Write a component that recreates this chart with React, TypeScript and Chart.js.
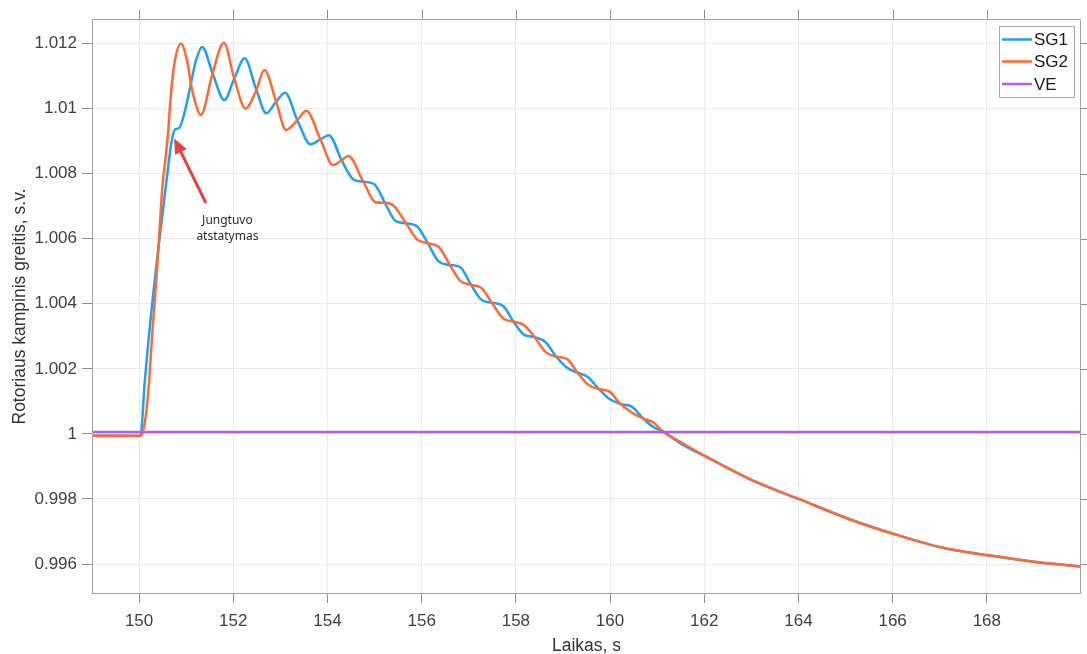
import React, { useEffect, useRef } from "react";
import { Chart, registerables } from "chart.js";

Chart.register(...registerables);

// ---------- data ----------
const SERIES_NAMES = ["SG1", "SG2", "VE"];
const X_TICKS = [150, 152, 154, 156, 158, 160, 162, 164, 166, 168];
const Y_TICKS = [0.996, 0.998, 1.0, 1.002, 1.004, 1.006, 1.008, 1.01, 1.012];
const Y_TICK_LABELS = ["0.996", "0.998", "1", "1.002", "1.004", "1.006", "1.008", "1.01", "1.012"];
const X_TITLE = "Laikas, s";
const Y_TITLE = "Rotoriaus kampinis greitis, s.v.";
const ANNOTATION_LINES = ["Jungtuvo", "atstatymas"];
const ARROW_TIP = [150.746, 1.00908];
const ARROW_TAIL = [151.406, 1.00713];
const ANNOTATION_AT = [151.875, 1.00657];

const SG1_T = [149, 150.0, 150.03, 150.12, 150.2, 150.3, 150.4, 150.5, 150.6, 150.68, 150.76, 150.85, 150.96, 151.1, 151.21, 151.34,
  151.56, 151.81, 152.02, 152.24, 152.49, 152.7, 152.91, 153.1, 153.36, 153.64, 153.85, 154.03, 154.3, 154.55, 154.76, 154.99,
  155.22, 155.44, 155.67, 155.9, 156.13, 156.36, 156.6, 156.82, 157.05, 157.27, 157.49, 157.73, 157.95, 158.17, 158.4, 158.63,
  158.86, 159.09, 159.31, 159.53, 159.76, 159.99, 160.22, 160.47, 160.7, 160.92, 161.13, 161.5, 162.04, 163.0, 164.06, 165.1,
  166.08, 167.04, 168.07, 169.0, 170.0];
const SG1_V = [0.99994, 0.99994, 0.99995, 1.0016, 1.0029, 1.0043, 1.0056, 1.0068, 1.008, 1.0089, 1.00935, 1.0094, 1.00985, 1.01077, 1.01149, 1.01189,
  1.01108, 1.01026, 1.01092, 1.01154, 1.01057, 1.00985, 1.01021, 1.01048, 1.00964, 1.0089, 1.00905, 1.00918, 1.00841, 1.00782, 1.00775, 1.00768,
  1.0071, 1.00655, 1.00647, 1.00638, 1.00586, 1.0053, 1.00519, 1.00512, 1.00458, 1.00412, 1.00403, 1.00393, 1.00345, 1.00305, 1.00297, 1.00282,
  1.00237, 1.00203, 1.00188, 1.00175, 1.00138, 1.00107, 1.00092, 1.00083, 1.00048, 1.00021, 1.00007, 0.9997, 0.9993, 0.99859, 0.99797, 0.99737,
  0.9969, 0.99651, 0.99626, 0.99607, 0.99592];

const SG2_T = [149, 150.0, 150.07, 150.14, 150.21, 150.28, 150.36, 150.43, 150.5, 150.56, 150.62, 150.67, 150.75, 150.89, 151.03, 151.1, 151.16, 151.31,
  151.56, 151.8, 152.02, 152.26, 152.49, 152.66, 152.91, 153.12, 153.36, 153.55, 153.85, 154.12, 154.3, 154.44, 154.76, 155.02,
  155.22, 155.4, 155.67, 155.9, 156.13, 156.36, 156.6, 156.82, 157.05, 157.27, 157.49, 157.73, 157.95, 158.17, 158.4, 158.63,
  158.86, 159.09, 159.31, 159.53, 159.76, 159.99, 160.22, 160.47, 160.7, 160.92, 161.13, 161.5, 162.04, 163.0, 164.06, 165.1,
  166.08, 167.04, 168.07, 169.0, 170.0];
const SG2_V = [0.99994, 0.99994, 1.00002, 1.00053, 1.00156, 1.00309, 1.00463, 1.00616, 1.0077, 1.00845, 1.00934, 1.01036, 1.01138, 1.012, 1.01138, 1.01077, 1.01036, 1.0098,
  1.01108, 1.01202, 1.01092, 1.01, 1.01057, 1.01118, 1.01021, 1.00934, 1.00964, 1.00993, 1.00905, 1.00826, 1.00841, 1.00854, 1.00775, 1.00712,
  1.0071, 1.00702, 1.00647, 1.00598, 1.00586, 1.00575, 1.00519, 1.0047, 1.00458, 1.00448, 1.00403, 1.00355, 1.00345, 1.00335, 1.00297, 1.00252,
  1.00237, 1.0023, 1.00188, 1.00152, 1.00138, 1.0013, 1.00092, 1.00065, 1.00048, 1.00035, 1.00007, 0.99975, 0.9993, 0.99859, 0.99797, 0.99737,
  0.9969, 0.99651, 0.99626, 0.99607, 0.99592];

const VE_T = [149, 170];
const VE_V = [1.00006, 1.00006];

const COLORS = ["#1f9ff5", "#ff6a33", "#b35cf5"];

const FONT = "'Liberation Sans', Arial, sans-serif";

function pts(t: number[], v: number[]) {
  return t.map((x, i) => ({ x, y: v[i] }));
}

const CHART_LEFT = 92;
const CHART_RIGHT = 1081;
const CHART_TOP = 19;
const CHART_BOTTOM = 594;
const W = 1087;
const H = 654;

const decorPlugin = {
  id: "decor",
  afterDraw(chart: any) {
    const ctx = chart.ctx as CanvasRenderingContext2D;
    const { left, right, top, bottom } = chart.chartArea;
    const xs = chart.scales.x;
    const ys = chart.scales.y;
    ctx.save();
    // frame
    ctx.strokeStyle = "#a3a3a3";
    ctx.lineWidth = 1;
    ctx.strokeRect(left + 0.5, top + 0.5, right - left - 1, bottom - top - 1);
    // top & right ticks (outward)
    ctx.strokeStyle = "#8f8f8f";
    ctx.beginPath();
    X_TICKS.forEach((t) => {
      const px = Math.round(xs.getPixelForValue(t)) + 0.5;
      ctx.moveTo(px, top);
      ctx.lineTo(px, top - 9);
    });
    Y_TICKS.forEach((v) => {
      const py = Math.round(ys.getPixelForValue(v)) + 0.5;
      ctx.moveTo(right, py);
      ctx.lineTo(right + 9, py);
    });
    ctx.stroke();

    // axis titles
    ctx.fillStyle = "#333333";
    ctx.font = `17.5px ${FONT}`;
    ctx.textAlign = "center";
    ctx.textBaseline = "alphabetic";
    ctx.fillText(X_TITLE, (left + right) / 2, 651);
    ctx.save();
    ctx.translate(25, (top + bottom) / 2);
    ctx.rotate(-Math.PI / 2);
    ctx.fillText(Y_TITLE, 0, 0);
    ctx.restore();

    // legend
    const lx = 999.5, ly = 26.5, lw = 75, lh = 71;
    ctx.fillStyle = "#ffffff";
    ctx.fillRect(lx, ly, lw, lh);
    ctx.strokeStyle = "#a8a8a8";
    ctx.strokeRect(lx, ly, lw, lh);
    const rows = [39.5, 61.5, 84];
    ctx.font = `17px ${FONT}`;
    ctx.textAlign = "left";
    ctx.textBaseline = "middle";
    SERIES_NAMES.forEach((name, i) => {
      ctx.strokeStyle = COLORS[i];
      ctx.lineWidth = 2.5;
      ctx.beginPath();
      ctx.moveTo(1002, rows[i]);
      ctx.lineTo(1032, rows[i]);
      ctx.stroke();
      ctx.fillStyle = "#1a1a1a";
      ctx.fillText(name, 1034, rows[i] + 1);
    });

    // annotation arrow
    const tx = xs.getPixelForValue(ARROW_TIP[0]);
    const ty = ys.getPixelForValue(ARROW_TIP[1]);
    const sx = xs.getPixelForValue(ARROW_TAIL[0]);
    const sy = ys.getPixelForValue(ARROW_TAIL[1]);
    const ang = Math.atan2(ty - sy, tx - sx);
    const headLen = 15, headW = 6.5;
    const bx = tx - headLen * Math.cos(ang);
    const by = ty - headLen * Math.sin(ang);
    ctx.strokeStyle = "#e8403f";
    ctx.fillStyle = "#e8403f";
    ctx.lineWidth = 3;
    ctx.lineCap = "round";
    ctx.beginPath();
    ctx.moveTo(sx, sy);
    ctx.lineTo(bx, by);
    ctx.stroke();
    ctx.beginPath();
    ctx.moveTo(tx, ty);
    ctx.lineTo(bx + headW * Math.sin(ang), by - headW * Math.cos(ang));
    ctx.lineTo(bx - headW * Math.sin(ang), by + headW * Math.cos(ang));
    ctx.closePath();
    ctx.fill();

    // annotation text
    const ax = xs.getPixelForValue(ANNOTATION_AT[0]);
    const ay = ys.getPixelForValue(ANNOTATION_AT[1]);
    ctx.fillStyle = "#2b2b2b";
    ctx.font = `12px 'Noto Sans', sans-serif`;
    ctx.textAlign = "center";
    ctx.textBaseline = "middle";
    ANNOTATION_LINES.forEach((line, i) => {
      ctx.fillText(line, ax, ay + i * 16.5);
    });
    ctx.restore();
  },
};

export default function App() {
  const ref = useRef<HTMLCanvasElement | null>(null);
  useEffect(() => {
    if (!ref.current) return;
    const chart = new Chart(ref.current, {
      type: "line",
      data: {
        datasets: [
          { label: SERIES_NAMES[2], data: pts(VE_T, VE_V), borderColor: COLORS[2], borderWidth: 2.5, pointRadius: 0, order: 0 },
          { label: SERIES_NAMES[1], data: pts(SG2_T, SG2_V), borderColor: COLORS[1], borderWidth: 2.5, pointRadius: 0, cubicInterpolationMode: "monotone", order: 1 },
          { label: SERIES_NAMES[0], data: pts(SG1_T, SG1_V), borderColor: COLORS[0], borderWidth: 2.5, pointRadius: 0, cubicInterpolationMode: "monotone", order: 2 },
        ],
      },
      options: {
        responsive: false,
        animation: false,
        layout: { padding: { top: CHART_TOP, right: W - CHART_RIGHT, left: 0, bottom: 0 } },
        plugins: { legend: { display: false }, tooltip: { enabled: false }, title: { display: false } },
        scales: {
          x: {
            type: "linear",
            min: 149,
            max: 170,
            afterFit: (s: any) => { s.height = H - CHART_BOTTOM; },
            afterBuildTicks: (s: any) => { s.ticks = X_TICKS.map((v) => ({ value: v })); },
            grid: { color: "#ebebeb", tickColor: "#8f8f8f", tickLength: 9, drawTicks: true },
            border: { display: false },
            ticks: { color: "#404040", font: { family: FONT, size: 17 }, padding: 8, maxRotation: 0, autoSkip: false, callback: (v: any) => String(v) },
          },
          y: {
            type: "linear",
            min: 0.99508,
            max: 1.01275,
            afterFit: (s: any) => { s.width = CHART_LEFT; },
            afterBuildTicks: (s: any) => { s.ticks = Y_TICKS.map((v) => ({ value: v })); },
            grid: { color: "#ebebeb", tickColor: "#8f8f8f", tickLength: 10, drawTicks: true },
            border: { display: false },
            ticks: {
              color: "#404040",
              font: { family: FONT, size: 17 },
              padding: 5,
              autoSkip: false,
              callback: (v: any) => {
                const i = Y_TICKS.findIndex((t) => Math.abs(t - v) < 1e-7);
                return i >= 0 ? Y_TICK_LABELS[i] : "";
              },
            },
          },
        },
      },
      plugins: [decorPlugin],
    } as any);
    return () => chart.destroy();
  }, []);
  return (
    <div style={{ position: "absolute", left: 0, top: 0, width: W, height: H, background: "#fff" }}>
      <canvas ref={ref} width={W} height={H} style={{ display: "block" }} />
    </div>
  );
}
